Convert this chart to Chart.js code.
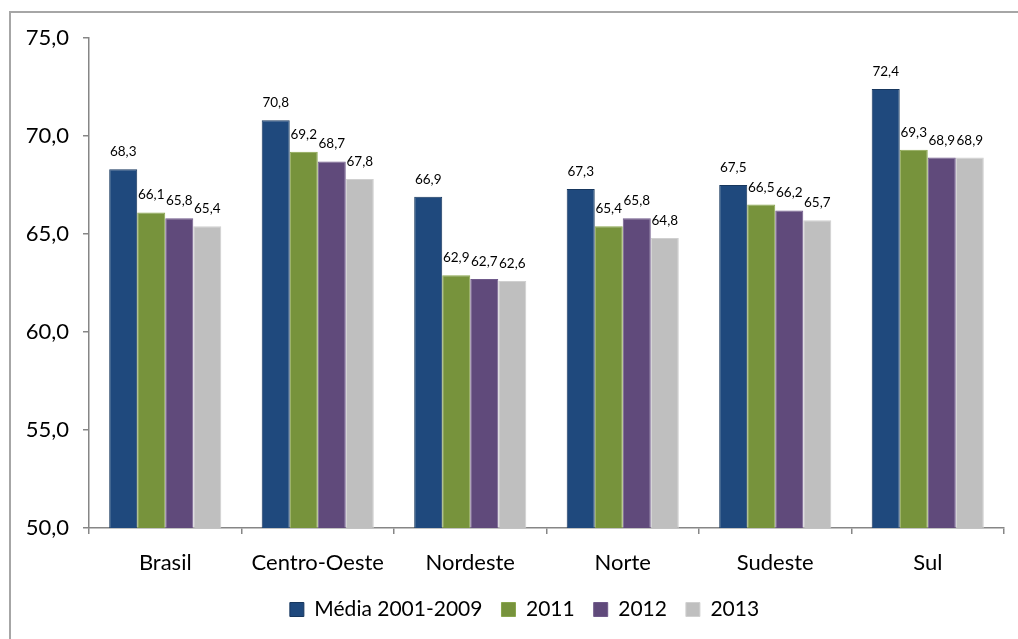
<!DOCTYPE html>
<html>
<head>
<meta charset="utf-8">
<script src="https://cdn.jsdelivr.net/npm/chart.js@4"></script>
<style>
  html, body { margin: 0; padding: 0; background: #fff; overflow: hidden; }
  #wrap { position: relative; width: 1018px; height: 639px; }
  #frame { position: absolute; left: 9px; top: 11px; width: 1031px; height: 700px;
           border: 2px solid #a6a6a6; box-sizing: border-box; }
  canvas { position: absolute; left: 0; top: 0; }
</style>
</head>
<body>
<div id="wrap">
  <div id="frame"></div>
  <canvas id="bar-chart" width="1018" height="639"></canvas>
</div>
<script>
const regions = ['Brasil', 'Centro-Oeste', 'Nordeste', 'Norte', 'Sudeste', 'Sul'];
const media20012009 = [68.3, 70.8, 66.9, 67.3, 67.5, 72.4];
const ano2011 = [66.1, 69.2, 62.9, 65.4, 66.5, 69.3];
const ano2012 = [65.8, 68.7, 62.7, 65.8, 66.2, 68.9];
const ano2013 = [65.4, 67.8, 62.6, 64.8, 65.7, 68.9];
const yTicks = [50, 55, 60, 65, 70, 75];

const fontFamily = 'Lato, "Open Sans", sans-serif';
const axisGray = '#868686';
const fmt = v => v.toFixed(1).replace('.', ',');

// value labels over each bar
const barLabels = {
  id: 'barLabels',
  afterDatasetsDraw(chart) {
    const ctx = chart.ctx;
    ctx.save();
    ctx.font = '13.5px ' + fontFamily;
    ctx.fillStyle = '#000';
    ctx.textAlign = 'center';
    ctx.textBaseline = 'alphabetic';
    chart.data.datasets.forEach((ds, i) => {
      chart.getDatasetMeta(i).data.forEach((bar, j) => {
        ctx.fillText(fmt(ds.data[j]), bar.x, bar.y - 13);
      });
    });
    ctx.restore();
  }
};

// centre the legend under the outer frame (left 9px, 1031px wide)
const legendShift = {
  id: 'legendShift',
  afterLayout(chart) {
    const lg = chart.legend;
    const dx = (9 + 1031 / 2) - (lg.left + lg.right) / 2;
    lg.left += dx;
    lg.right += dx;
  }
};

new Chart(document.getElementById('bar-chart'), {
  type: 'bar',
  data: {
    labels: regions,
    datasets: [
      { label: 'Média 2001-2009', data: media20012009, backgroundColor: '#1F497D', borderColor: '#17375E' },
      { label: '2011', data: ano2011, backgroundColor: '#77933C', borderColor: '#8AA64E' },
      { label: '2012', data: ano2012, backgroundColor: '#604A7B', borderColor: '#705A8B' },
      { label: '2013', data: ano2013, backgroundColor: '#BFBFBF', borderColor: '#D0D0D0' }
    ]
  },
  options: {
    responsive: false,
    animation: false,
    datasets: {
      bar: { borderWidth: 1, categoryPercentage: 0.735, barPercentage: 1.0 }
    },
    layout: { padding: { top: 38, right: 14, left: 0, bottom: 9 } },
    plugins: {
      tooltip: { enabled: false },
      legend: {
        position: 'bottom',
        labels: {
          boxWidth: 14,
          boxHeight: 14,
          padding: 19,
          color: '#000',
          font: { family: fontFamily, size: 21 }
        }
      }
    },
    scales: {
      x: {
        grid: { drawOnChartArea: false, drawTicks: true, tickLength: 6, color: axisGray, lineWidth: 1.5 },
        border: { color: axisGray, width: 1.5 },
        ticks: { color: '#000', padding: 16, font: { family: fontFamily, size: 22 } },
        afterFit(scale) { scale.height = 52; }
      },
      y: {
        min: 50,
        max: 75,
        afterBuildTicks(scale) { scale.ticks = yTicks.map(v => ({ value: v })); },
        grid: { drawOnChartArea: false, drawTicks: true, tickLength: 6, color: axisGray, lineWidth: 1.5 },
        border: { color: axisGray, width: 1.5 },
        ticks: { color: '#000', padding: 14, font: { family: fontFamily, size: 22 }, callback: v => fmt(v) },
        afterFit(scale) { scale.width = 89; }
      }
    }
  },
  plugins: [barLabels, legendShift]
});
</script>
</body>
</html>
